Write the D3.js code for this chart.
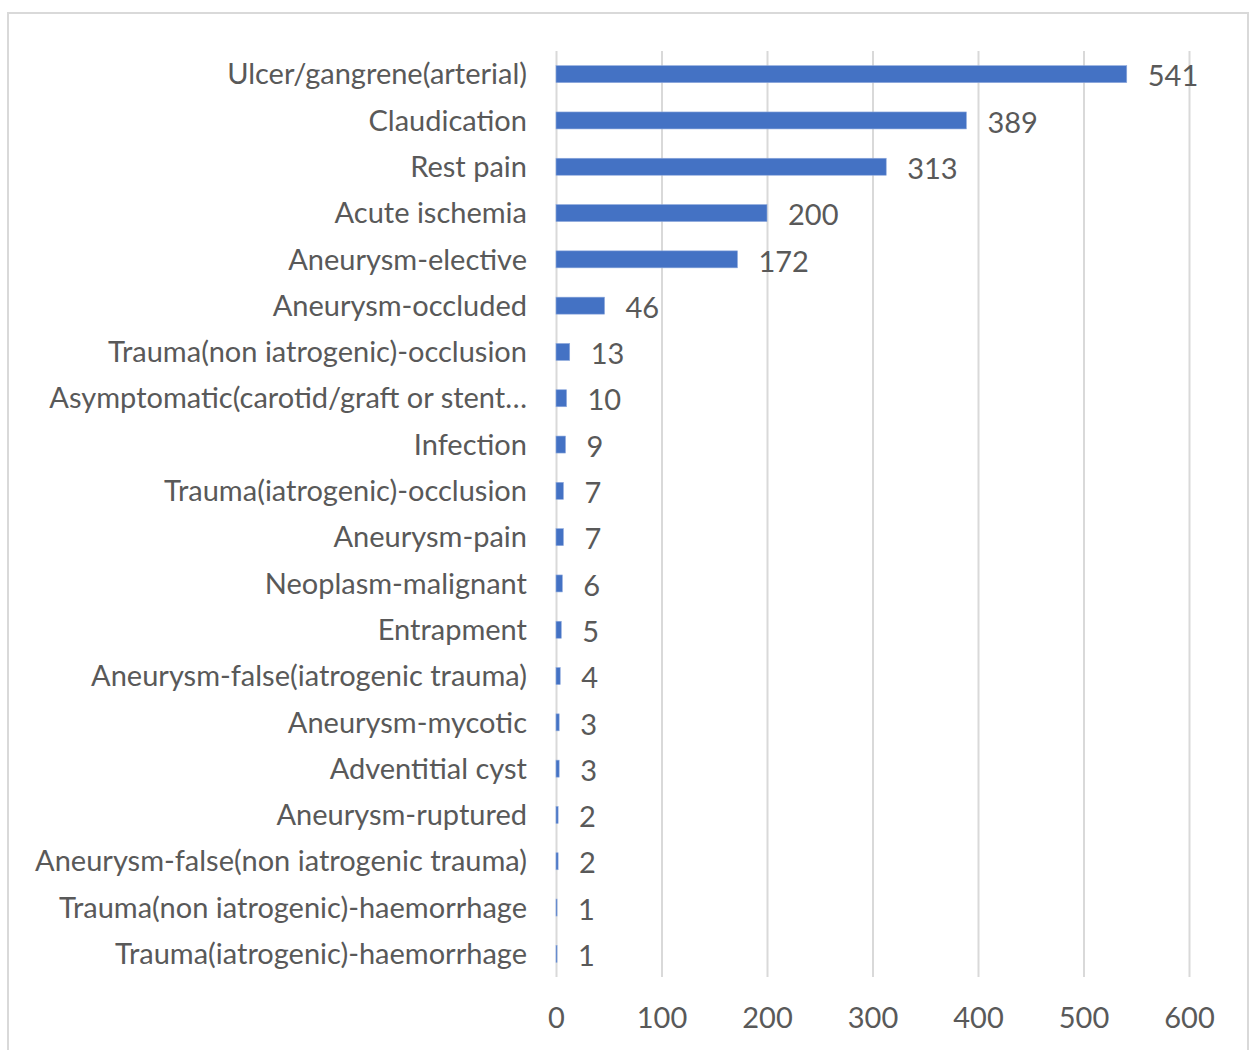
<!DOCTYPE html>
<html>
<head>
<meta charset="utf-8">
<script src="https://cdn.jsdelivr.net/npm/d3@7"></script>
<style>
  html, body { margin: 0; padding: 0; background: #fff; }
  svg text { font-family: Lato, "Open Sans", sans-serif; fill: #595959; }
</style>
</head>
<body>
<svg id="chart" width="1249" height="1050"></svg>
<script>
const categories = [
  "Ulcer/gangrene(arterial)",
  "Claudication",
  "Rest pain",
  "Acute ischemia",
  "Aneurysm-elective",
  "Aneurysm-occluded",
  "Trauma(non iatrogenic)-occlusion",
  "Asymptomatic(carotid/graft or stent\u2026",
  "Infection",
  "Trauma(iatrogenic)-occlusion",
  "Aneurysm-pain",
  "Neoplasm-malignant",
  "Entrapment",
  "Aneurysm-false(iatrogenic trauma)",
  "Aneurysm-mycotic",
  "Adventitial cyst",
  "Aneurysm-ruptured",
  "Aneurysm-false(non iatrogenic trauma)",
  "Trauma(non iatrogenic)-haemorrhage",
  "Trauma(iatrogenic)-haemorrhage"
];
const values = [541, 389, 313, 200, 172, 46, 13, 10, 9, 7, 7, 6, 5, 4, 3, 3, 2, 2, 1, 1];
const xTicks = [0, 100, 200, 300, 400, 500, 600];

const svg = d3.select("#chart");
const W = 1249, H = 1050;
const plot = { left: 556, right: 1189, top: 51, bottom: 977 };
const fontSize = 29;

// chart border
svg.append("rect")
  .attr("x", 8).attr("y", 13)
  .attr("width", W - 9).attr("height", H)
  .attr("fill", "#fff")
  .attr("stroke", "#d9d9d9").attr("stroke-width", 2);

const x = d3.scaleLinear().domain([0, 600]).range([plot.left, plot.right]);
const y = d3.scaleBand().domain(categories)
  .range([plot.top, plot.bottom])
  .paddingInner(0.633).paddingOuter(0.3165);

// gridlines
const grid = svg.append("g")
  .attr("transform", `translate(0,${plot.bottom})`)
  .call(d3.axisBottom(x).tickValues(xTicks).tickSize(-(plot.bottom - plot.top)).tickFormat(""));
grid.select(".domain").remove();
grid.selectAll(".tick line").attr("stroke", "#d9d9d9").attr("stroke-width", 2);

// x tick labels
const xa = svg.append("g")
  .attr("transform", `translate(0,${plot.bottom})`)
  .call(d3.axisBottom(x).tickValues(xTicks).tickSize(0).tickPadding(0).tickFormat(d3.format("d")));
xa.select(".domain").remove();
xa.selectAll(".tick text")
  .attr("y", 41)
  .attr("dy", "0.35em")
  .style("font-size", fontSize + "px")
  .attr("fill", "#595959");

// bars
svg.append("g").selectAll("rect")
  .data(values)
  .join("rect")
  .attr("x", x(0))
  .attr("y", (d, i) => y(categories[i]))
  .attr("width", d => x(d) - x(0))
  .attr("height", y.bandwidth())
  .attr("fill", "#4472c4")
  .attr("stroke", "#8faadc")
  .attr("stroke-width", 0.6);

// category labels
svg.append("g").selectAll("text")
  .data(categories)
  .join("text")
  .attr("x", 527)
  .attr("y", d => y(d) + y.bandwidth() / 2)
  .attr("dy", "0.35em")
  .attr("text-anchor", "end")
  .style("font-size", fontSize + "px")
  .text(d => d);

// value labels
svg.append("g").selectAll("text")
  .data(values)
  .join("text")
  .attr("x", d => x(d) + 21)
  .attr("y", (d, i) => y(categories[i]) + y.bandwidth() / 2 + 2)
  .attr("dy", "0.35em")
  .style("font-size", fontSize + "px")
  .text(d => d);
</script>
</body>
</html>
